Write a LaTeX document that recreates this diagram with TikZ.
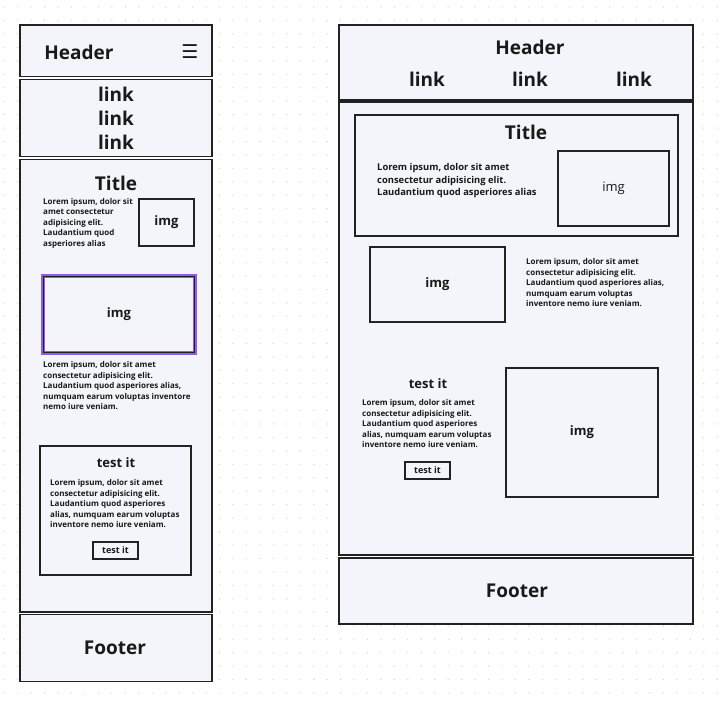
\documentclass[tikz,border=0pt]{standalone}
\usepackage{fontspec}
\setmainfont{Open Sans}
\newfontfamily\symfont{DejaVu Sans}
\definecolor{boxfill}{HTML}{F4F5FA}
\definecolor{inkline}{HTML}{222222}
\definecolor{dotgrey}{HTML}{D2D2D8}
\definecolor{pickpurple}{HTML}{8A5CF5}
\tikzset{
  frame/.style 2 args={draw=inkline, fill=boxfill, line width=1.4pt, minimum width=#1, minimum height=#2, inner sep=0pt},
  card/.style 2 args={frame={#1}{#2}, line width=1.4pt},
  big/.style={font=\fontsize{19}{23}\selectfont\bfseries, inner sep=0pt},
  heading/.style={font=\fontsize{13}{15}\selectfont\bfseries, inner sep=0pt},
  imgtxt/.style={font=\fontsize{13}{15}\selectfont\bfseries, inner sep=0pt},
  btntxt/.style={font=\fontsize{9}{11}\selectfont\bfseries},
  lorem/.style={font=\fontsize{8}{10.5}\selectfont\bfseries, align=left, anchor=west, inner sep=0pt},
  loremlg/.style={lorem, font=\fontsize{9.4}{12.5}\selectfont\bfseries}
}
\begin{document}
\begin{tikzpicture}[x=1pt, y=-1pt, text=black!90]
\useasboundingbox (0,0) rectangle (728,702);
% dotted canvas
\foreach \i in {0,...,53}
  \foreach \j in {0,...,51}
    \fill[dotgrey] (4.3+13.45*\i, 7+13.45*\j) circle (0.7);

% ---- narrow layout ----
\node[frame={192}{51.3}] (hdrL) at (116,50.65) {};
\node[frame={192}{76.5}] (navL) at (116,117.95) {};
\node[frame={192}{452.3}] (mainL) at (116,385.85) {};
\node[frame={192}{67}] (footL) at (116,648.2) {};
\node[big] (hdrLtxt) at (79,52) {Header};
\node[inner sep=0pt, font=\symfont\fontsize{19}{23}\selectfont] (menuL) at (190,52) {☰};
\foreach \y/\n in {94/1,118/2,142/3}
  \node[big] (linkL\n) at (116,\y) {link};
\node[big] (titleL) at (116,183) {Title};
\node[lorem] (loremLa) at (43,223) {Lorem ipsum, dolor sit\\amet consectetur\\adipisicing elit.\\Laudantium quod\\asperiores alias};
\node[card={55}{47}] (imgLa) at (166.5,222.5) {};
\node[imgtxt] at (imgLa) {img};
\node[frame={152}{77}, draw=pickpurple, line width=3.5pt] (imgLb) at (119,314.5) {};
\draw[inkline, line width=0.8pt] (imgLb.south west) ++(2.6,-2.6) rectangle ([shift={(-2.6,2.6)}]imgLb.north east);
\node[imgtxt] at (imgLb) {img};
\node[lorem] (loremLb) at (43,386) {Lorem ipsum, dolor sit amet\\consectetur adipisicing elit.\\Laudantium quod asperiores alias,\\numquam earum voluptas inventore\\nemo iure veniam.};
\node[card={151}{129}] (cardL) at (115.5,510.5) {};
\node[heading] (testL) at (116,463) {test it};
\node[lorem] (loremLc) at (50,504) {Lorem ipsum, dolor sit amet\\consectetur adipisicing elit.\\Laudantium quod asperiores\\alias, numquam earum voluptas\\inventore nemo iure veniam.};
\node[card={45}{17}] (btnL) at (115.5,550.5) {};
\node[btntxt] at (btnL) {test it};
\node[big] (footLtxt) at (115,648) {Footer};

% ---- wide layout ----
\node[frame={354}{75}] (hdrR) at (516,62.5) {};
\node[frame={354}{453}] (mainR) at (516,328.5) {};
\node[frame={354}{66}] (footR) at (516,591) {};
\node[big] (hdrRtxt) at (530,47) {Header};
\foreach \x/\n in {427/1,530/2,634/3}
  \node[big] (linkR\n) at (\x,79) {link};
\node[card={323}{121}] (titlecard) at (516.5,175.5) {};
\node[big] (titleR) at (526,132) {Title};
\node[loremlg] (loremRa) at (377,181) {Lorem ipsum, dolor sit amet\\consectetur adipisicing elit.\\Laudantium quod asperiores alias};
\node[card={111}{75}] (imgRa) at (613.5,188.5) {};
\node[font=\fontsize{13}{15}\selectfont, inner sep=0pt] at (imgRa) {img};
\node[card={135}{75}] (imgRb) at (437.5,284.5) {};
\node[imgtxt] at (imgRb) {img};
\node[lorem] (loremRb) at (526,283) {Lorem ipsum, dolor sit amet\\consectetur adipisicing elit.\\Laudantium quod asperiores alias,\\numquam earum voluptas\\inventore nemo iure veniam.};
\node[heading] (testR) at (428,384) {test it};
\node[lorem] (loremRc) at (362,424) {Lorem ipsum, dolor sit amet\\consectetur adipisicing elit.\\Laudantium quod asperiores\\alias, numquam earum voluptas\\inventore nemo iure veniam.};
\node[card={45}{17}] (btnR) at (427.5,470.5) {};
\node[btntxt] at (btnR) {test it};
\node[card={152}{129}] (imgRc) at (582,432.5) {};
\node[imgtxt] at (imgRc) {img};
\node[big] (footRtxt) at (517,591) {Footer};
\end{tikzpicture}
\end{document}
